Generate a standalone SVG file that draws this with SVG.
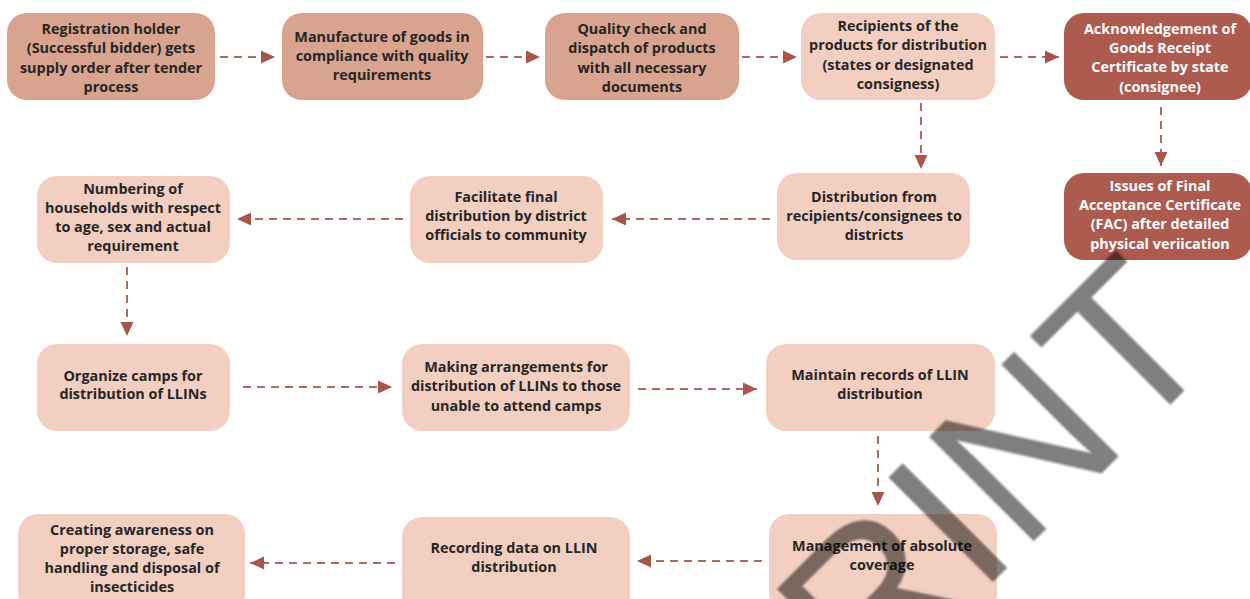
<svg xmlns="http://www.w3.org/2000/svg" width="1250" height="599" viewBox="0 0 1250 599">
<defs>
<style>
.n rect{stroke:none}
.d rect{fill:#d9a48f}
.l rect{fill:#f3cfc1}
.r rect{fill:#ad5a4f}
.n text{font-family:"Open Sans","Liberation Sans",sans-serif;font-weight:700;font-size:14.4px;text-anchor:middle;fill:#262626}
.r text{fill:#ffffff}
#connectors path{fill:none;stroke:#b06a60;stroke-width:2;stroke-dasharray:8 6;marker-end:url(#ah)}
</style>
<marker id="ah" markerUnits="userSpaceOnUse" markerWidth="15" markerHeight="14" refX="14" refY="7" orient="auto">
<path d="M0,0.5 L14,7 L0,13.5 z" fill="#a8564c"/>
</marker>
<filter id="soft" x="-10%" y="-10%" width="120%" height="120%"><feGaussianBlur stdDeviation="1.2"/></filter>
</defs>
<rect width="1250" height="599" fill="#ffffff"/>

<g id="connectors">
<path d="M220,57 H275"/>
<path d="M486,57 H540"/>
<path d="M742,57 H797"/>
<path d="M1000,57 H1059"/>
<path d="M921,103 V169"/>
<path d="M1161,107 V166"/>
<path d="M770,219 H612"/>
<path d="M403,219 H237"/>
<path d="M127,267 V336"/>
<path d="M243,387 H392"/>
<path d="M638,389 H757"/>
<path d="M878,436 V506"/>
<path d="M762,561 H637"/>
<path d="M395,563 H250"/>
</g>

<g id="n1" class="n d"><rect x="7" y="13" width="208" height="87" rx="20"/>
<text x="111" y="34">Registration holder</text><text x="111" y="53">(Successful bidder) gets</text><text x="111" y="73">supply order after tender</text><text x="111" y="92">process</text></g>

<g id="n2" class="n d"><rect x="282" y="13" width="201" height="87" rx="20"/>
<text x="382" y="42">Manufacture of goods in</text><text x="382" y="61">compliance with quality</text><text x="382" y="80">requirements</text></g>

<g id="n3" class="n d"><rect x="545" y="13" width="194" height="87" rx="20"/>
<text x="642" y="34">Quality check and</text><text x="642" y="53">dispatch of products</text><text x="642" y="73">with all necessary</text><text x="642" y="92">documents</text></g>

<g id="n4" class="n l"><rect x="801" y="13" width="194" height="87" rx="20"/>
<text x="898" y="31">Recipients of the</text><text x="898" y="50">products for distribution</text><text x="898" y="70">(states or designated</text><text x="898" y="89">consigness)</text></g>

<g id="n5" class="n r"><rect x="1064" y="13" width="188" height="87" rx="20"/>
<text x="1160" y="34">Acknowledgement of</text><text x="1160" y="53">Goods Receipt</text><text x="1160" y="72">Certificate by state</text><text x="1160" y="92">(consignee)</text></g>

<g id="n6" class="n r"><rect x="1064" y="173" width="188" height="87" rx="20"/>
<text x="1160" y="191">Issues of Final</text><text x="1160" y="210">Acceptance Certificate</text><text x="1160" y="229">(FAC) after detailed</text><text x="1160" y="249">physical veriication</text></g>

<g id="n7" class="n l"><rect x="777" y="173" width="193" height="87" rx="20"/>
<text x="874" y="202">Distribution from</text><text x="874" y="221">recipients/consignees to</text><text x="874" y="240">districts</text></g>

<g id="n8" class="n l"><rect x="410" y="176" width="193" height="87" rx="20"/>
<text x="506" y="202">Facilitate final</text><text x="506" y="221">distribution by district</text><text x="506" y="240">officials to community</text></g>

<g id="n9" class="n l"><rect x="37" y="176" width="193" height="87" rx="20"/>
<text x="133" y="194">Numbering of</text><text x="133" y="213">households with respect</text><text x="133" y="232">to age, sex and actual</text><text x="133" y="251">requirement</text></g>

<g id="n10" class="n l"><rect x="37" y="344" width="193" height="87" rx="20"/>
<text x="133" y="381">Organize camps for</text><text x="133" y="399">distribution of LLINs</text></g>

<g id="n11" class="n l"><rect x="402" y="344" width="228" height="87" rx="20"/>
<text x="516" y="372">Making arrangements for</text><text x="516" y="391">distribution of LLINs to those</text><text x="516" y="411">unable to attend camps</text></g>

<g id="n12" class="n l"><rect x="766" y="344" width="229" height="87" rx="20"/>
<text x="880" y="380">Maintain records of LLIN</text><text x="880" y="399">distribution</text></g>

<g id="n13" class="n l"><rect x="769" y="514" width="228" height="100" rx="20"/>
<text x="882" y="551">Management of absolute</text><text x="882" y="570">coverage</text></g>

<g id="n14" class="n l"><rect x="402" y="517" width="228" height="100" rx="20"/>
<text x="514" y="553">Recording data on LLIN</text><text x="514" y="572">distribution</text></g>

<g id="n15" class="n l"><rect x="18" y="514" width="227" height="100" rx="20"/>
<text x="132" y="535">Creating awareness on</text><text x="132" y="554">proper storage, safe</text><text x="132" y="573">handling and disposal of</text><text x="132" y="592">insecticides</text></g>

<g id="watermark" filter="url(#soft)">
<text transform="translate(787.5 787.5) rotate(-45)" x="-28" y="0" font-family="'Liberation Sans',Arial,sans-serif" font-size="215" fill="#000000" fill-opacity="0.5">PRINT</text>
</g>
</svg>
